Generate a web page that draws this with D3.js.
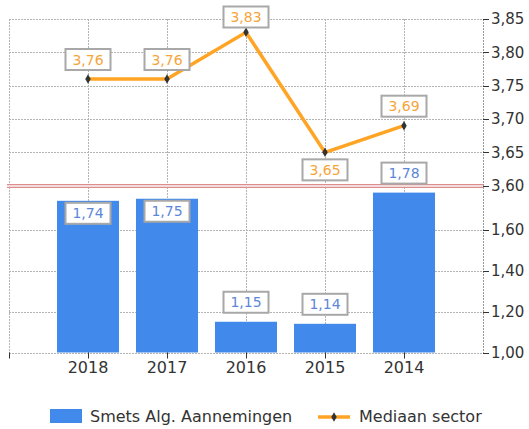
<!DOCTYPE html>
<html>
<head>
<meta charset="utf-8">
<script src="https://cdn.jsdelivr.net/npm/d3@7/dist/d3.min.js"></script>
<style>
  html, body { margin: 0; padding: 0; background: #fff; }
  svg { display: block; font-family: "DejaVu Sans", Verdana, sans-serif; }
</style>
</head>
<body>
<svg id="chart" width="529" height="429"></svg>
<script>
// Years shown on the x axis
const years = ["2018", "2017", "2016", "2015", "2014"];
// Company score per year (bars, lower panel)
const companyValues = [1.74, 1.75, 1.15, 1.14, 1.78];
// Sector median per year (line, upper panel)
const sectorMedian = [3.76, 3.76, 3.83, 3.65, 3.69];
// Axis ticks
const sectorTicks = [3.60, 3.65, 3.70, 3.75, 3.80, 3.85];
const companyTicks = [1.00, 1.20, 1.40, 1.60];
// Legend entries
const legendNames = ["Smets Alg. Aannemingen", "Mediaan sector"];

const BLUE = "#418aeb";
const ORANGE = "#ffa424";
const GRID = "#b4b4b4";
const TEXT = "#333";

const svg = d3.select("#chart");
const left = 9, right = 483;
const splitY = 186;

const nl = d3.formatLocale({ decimal: ",", thousands: ".", grouping: [3], currency: ["€", ""] });
const fmt = nl.format(".2f");

const x = d3.scalePoint().domain(years).range([left, right]).padding(1);
const yTop = d3.scaleLinear().domain([3.60, 3.85]).range([185.7, 19]);
const yBot = d3.scaleLinear().domain([1.0, 1.8]).range([352.5, 188.5]);

const grid = svg.append("g")
  .attr("stroke", GRID).attr("stroke-width", 1).attr("stroke-dasharray", "2,1")
  .attr("fill", "none").attr("shape-rendering", "crispEdges");

// horizontal grid lines, upper panel
grid.selectAll(".ht").data(sectorTicks.filter(t => t > 3.6)).join("line")
  .attr("x1", left).attr("x2", right)
  .attr("y1", d => Math.round(yTop(d)) + 0.5).attr("y2", d => Math.round(yTop(d)) + 0.5);
// horizontal grid lines, lower panel
grid.selectAll(".hb").data(companyTicks).join("line")
  .attr("x1", left).attr("x2", right)
  .attr("y1", d => Math.round(yBot(d)) + 0.5).attr("y2", d => Math.round(yBot(d)) + 0.5);
// vertical grid lines
grid.selectAll(".v").data([left, ...years.map(d => x(d)), right]).join("line")
  .attr("x1", d => Math.round(d) + 0.5).attr("x2", d => Math.round(d) + 0.5)
  .attr("y1", yTop(3.85)).attr("y2", yBot(1.0));

// bars
const barW = 62;
svg.append("g").selectAll("rect").data(years).join("rect")
  .attr("x", d => x(d) - barW / 2)
  .attr("width", barW)
  .attr("y", (d, i) => yBot(companyValues[i]))
  .attr("height", (d, i) => yBot(1.0) - yBot(companyValues[i]))
  .attr("fill", BLUE);

// panel separator
const sep = svg.append("g");
sep.append("rect").attr("x", 7).attr("width", right - 7).attr("y", 184).attr("height", 4).attr("fill", "#f4dada");
sep.append("line").attr("x1", 7).attr("x2", right).attr("y1", 184.5).attr("y2", 184.5).attr("stroke", "#dc8e8e");
sep.append("line").attr("x1", 7).attr("x2", right).attr("y1", 187.5).attr("y2", 187.5).attr("stroke", "#dc8e8e");

// median line
const line = d3.line().x((d, i) => x(years[i])).y(d => yTop(d));
svg.append("path").datum(sectorMedian).attr("d", line)
  .attr("fill", "none").attr("stroke", ORANGE).attr("stroke-width", 3.5)
  .attr("stroke-linejoin", "miter");

const diamond = d3.symbol().type(d3.symbolDiamond).size(26);
svg.append("g").selectAll("path").data(sectorMedian).join("path")
  .attr("d", diamond)
  .attr("transform", (d, i) => `translate(${x(years[i])},${yTop(d)})`)
  .attr("fill", "#333");

// right axis
const axisG = svg.append("g");
axisG.append("line").attr("x1", right + 0.5).attr("x2", right + 0.5)
  .attr("y1", yTop(3.85)).attr("y2", yBot(1.0))
  .attr("stroke", "#999").attr("stroke-dasharray", "2,1");
const tickData = [
  ...sectorTicks.map(t => ({ y: yTop(t), label: fmt(t) })),
  ...companyTicks.map(t => ({ y: yBot(t), label: fmt(t) }))
];
axisG.selectAll(".tk").data(tickData).join("line")
  .attr("x1", right).attr("x2", right + 6)
  .attr("y1", d => Math.round(d.y) + 0.5).attr("y2", d => Math.round(d.y) + 0.5)
  .attr("stroke", "#333");
axisG.selectAll(".tl").data(tickData).join("text")
  .attr("x", right + 8).attr("y", d => d.y).attr("dy", "0.36em")
  .attr("font-size", 15).attr("fill", TEXT).text(d => d.label);

// bottom axis ticks and labels
const bx = svg.append("g");
bx.selectAll("line").data([left, ...years.map(d => x(d))]).join("line")
  .attr("x1", d => Math.round(d) + 0.5).attr("x2", d => Math.round(d) + 0.5)
  .attr("y1", yBot(1.0)).attr("y2", yBot(1.0) + 6)
  .attr("stroke", "#333");
bx.selectAll("text").data(years).join("text")
  .attr("x", d => x(d)).attr("y", 373)
  .attr("text-anchor", "middle").attr("font-size", 16).attr("fill", TEXT)
  .text(d => d);

// value labels
function labelBox(g, cx, top, text, color) {
  const w = 45, h = 21;
  g.append("rect").attr("x", cx - w / 2).attr("y", top).attr("width", w).attr("height", h)
    .attr("fill", "#fff").attr("stroke", "#a8a8a8").attr("stroke-width", 2);
  g.append("text").attr("x", cx).attr("y", top + h / 2).attr("dy", "0.36em")
    .attr("text-anchor", "middle").attr("font-size", 14).attr("fill", color).text(text);
}
const labels = svg.append("g");
sectorMedian.forEach((v, i) => {
  const px = x(years[i]), py = yTop(v);
  const prev = sectorMedian[i - 1], next = sectorMedian[i + 1];
  const isLow = prev !== undefined && next !== undefined && v < prev && v < next;
  const top = isLow ? py + 7 : Math.max(6.5, py - 9 - 21);
  labelBox(labels, px, top, fmt(v), "#f5a53a");
});
companyValues.forEach((v, i) => {
  const px = x(years[i]), py = yBot(v);
  let top = py - 9 - 21;
  if (top < splitY && top + 21 > splitY) top = py + 2;
  labelBox(labels, px, top, fmt(v), "#5c86d9");
});

// legend
const lg = svg.append("g");
lg.append("rect").attr("x", 50).attr("y", 409).attr("width", 32).attr("height", 14).attr("fill", BLUE);
lg.append("text").attr("x", 90).attr("y", 416).attr("dy", "0.36em")
  .attr("font-size", 16).attr("fill", TEXT).text(legendNames[0]);
lg.append("line").attr("x1", 318).attr("x2", 350).attr("y1", 417).attr("y2", 417)
  .attr("stroke", ORANGE).attr("stroke-width", 3.5);
lg.append("path").attr("d", diamond).attr("transform", "translate(334,417)").attr("fill", "#333");
lg.append("text").attr("x", 359).attr("y", 416).attr("dy", "0.36em")
  .attr("font-size", 16).attr("fill", TEXT).text(legendNames[1]);
</script>
</body>
</html>
